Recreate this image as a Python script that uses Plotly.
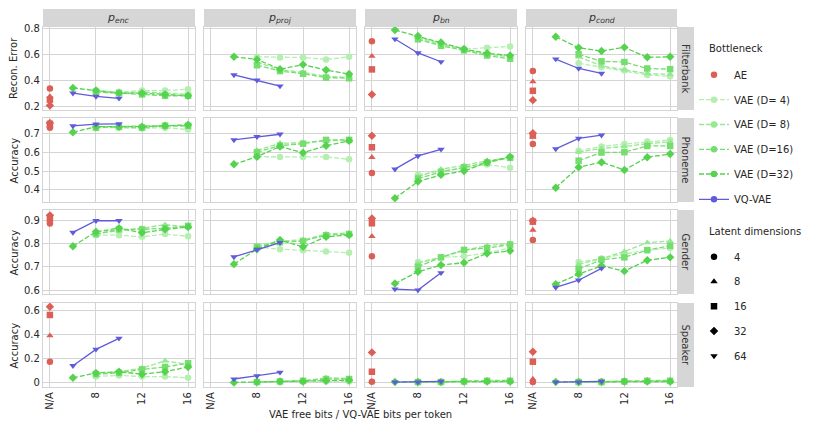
import plotly.graph_objects as go

W, H = 814, 432

# ---------------- data ----------------
PROBES = ["enc", "proj", "bn", "cond"]
TASKS = ["Filterbank", "Phoneme", "Gender", "Speaker"]
Y_TITLES = ["Recon. Error", "Accuracy", "Accuracy", "Accuracy"]

X_TICKVALS = [4, 8, 12, 16]
X_TICKTEXT = ["N/A", "8", "12", "16"]
X_AE = 4                      # position of "N/A"
X_VQ = [6, 8, 10]
X_VAE = [8, 10, 12, 14, 16]
X_VAE32 = [6, 8, 10, 12, 14, 16]
AE_DIMS = [4, 8, 16, 32]
LATENT_DIMS = [4, 8, 16, 32, 64]

Y_TICKS = [[0.2, 0.4, 0.6, 0.8], [0.4, 0.5, 0.6, 0.7], [0.6, 0.7, 0.8, 0.9], [0, 0.2, 0.4, 0.6]]
Y_TICKTEXT = [["0.2", "0.4", "0.6", "0.8"], ["0.4", "0.5", "0.6", "0.7"],
              ["0.6", "0.7", "0.8", "0.9"], ["0", "0.2", "0.4", "0.6"]]

# each list: [p_enc, p_proj, p_bn, p_cond]
# ---- Filterbank (reconstruction error)
AE_FILTERBANK = [[0.335, 0.275, 0.25, 0.205], None, [0.70, 0.585, 0.483, 0.29], [0.47, 0.388, 0.318, 0.246]]
VQ_FILTERBANK = [[0.30, 0.275, 0.26], [0.44, 0.40, 0.355], [0.717, 0.61, 0.542], [0.563, 0.49, 0.452]]
D4_FILTERBANK = [[0.32, 0.31, 0.32, 0.32, 0.33], [0.58, 0.575, 0.575, 0.56, 0.58],
                 [0.72, 0.675, 0.64, 0.65, 0.66], [0.53, 0.50, 0.475, 0.44, 0.43]]
D8_FILTERBANK = [[0.31, 0.30, 0.31, 0.30, 0.29], [0.54, 0.48, 0.46, 0.43, 0.42],
                 [0.73, 0.68, 0.635, 0.60, 0.58], [0.58, 0.51, 0.48, 0.45, 0.445]]
D16_FILTERBANK = [[0.31, 0.30, 0.29, 0.28, 0.28], [0.515, 0.47, 0.45, 0.42, 0.415],
                  [0.715, 0.665, 0.63, 0.59, 0.565], [0.60, 0.545, 0.54, 0.49, 0.485]]
D32_FILTERBANK = [[0.34, 0.32, 0.30, 0.30, 0.29, 0.28], [0.58, 0.56, 0.485, 0.52, 0.478, 0.447],
                  [0.787, 0.74, 0.69, 0.64, 0.607, 0.59], [0.735, 0.65, 0.625, 0.653, 0.576, 0.58]]
# ---- Phoneme accuracy
AE_PHONEME = [[0.73, 0.74, 0.75, 0.755], None, [0.49, 0.573, 0.626, 0.687], [0.643, 0.68, 0.69, 0.70]]
VQ_PHONEME = [[0.739, 0.749, 0.75], [0.665, 0.682, 0.695], [0.51, 0.58, 0.615], [0.617, 0.673, 0.69]]
D4_PHONEME = [[0.73, 0.73, 0.725, 0.73, 0.72], [0.576, 0.575, 0.575, 0.575, 0.562],
              [0.48, 0.50, 0.515, 0.535, 0.518], [0.608, 0.63, 0.643, 0.656, 0.665]]
D8_PHONEME = [[0.735, 0.735, 0.74, 0.74, 0.74], [0.61, 0.647, 0.65, 0.66, 0.665],
              [0.47, 0.51, 0.53, 0.555, 0.57], [0.60, 0.62, 0.63, 0.645, 0.655]]
D16_PHONEME = [[0.73, 0.735, 0.73, 0.74, 0.74], [0.60, 0.635, 0.645, 0.665, 0.665],
               [0.46, 0.495, 0.52, 0.545, 0.57], [0.555, 0.598, 0.60, 0.633, 0.633]]
D32_PHONEME = [[0.705, 0.735, 0.735, 0.735, 0.74, 0.745], [0.536, 0.576, 0.63, 0.597, 0.634, 0.66],
               [0.356, 0.444, 0.48, 0.50, 0.547, 0.576], [0.412, 0.52, 0.547, 0.506, 0.573, 0.59]]
# ---- Gender accuracy
AE_GENDER = [[0.885, 0.90, 0.91, 0.92], None, [0.745, 0.83, 0.886, 0.907], [0.814, 0.857, 0.893, 0.897]]
VQ_GENDER = [[0.847, 0.897, 0.897], [0.742, 0.774, 0.803], [0.604, 0.60, 0.674], [0.611, 0.642, 0.693]]
D4_GENDER = [[0.835, 0.835, 0.828, 0.84, 0.83], [0.785, 0.775, 0.77, 0.765, 0.76],
             [0.72, 0.74, 0.745, 0.76, 0.78], [0.72, 0.735, 0.755, 0.77, 0.78]]
D8_GENDER = [[0.84, 0.855, 0.865, 0.88, 0.87], [0.79, 0.81, 0.815, 0.84, 0.845],
             [0.715, 0.74, 0.77, 0.79, 0.80], [0.71, 0.735, 0.765, 0.803, 0.81]]
D16_GENDER = [[0.84, 0.86, 0.86, 0.865, 0.875], [0.785, 0.805, 0.81, 0.835, 0.84],
              [0.70, 0.74, 0.772, 0.78, 0.795], [0.69, 0.73, 0.74, 0.771, 0.79]]
D32_GENDER = [[0.788, 0.85, 0.865, 0.845, 0.86, 0.87], [0.711, 0.775, 0.814, 0.785, 0.828, 0.836],
              [0.628, 0.678, 0.707, 0.717, 0.757, 0.768], [0.625, 0.668, 0.704, 0.681, 0.728, 0.74]]
# ---- Speaker accuracy
AE_SPEAKER = [[0.173, 0.388, 0.559, 0.627], None, [0.008, 0.01, 0.09, 0.25], [0.005, 0.03, 0.173, 0.255]]
VQ_SPEAKER = [[0.14, 0.275, 0.366], [0.03, 0.055, 0.085], [0.005, 0.005, 0.01], [0.005, 0.005, 0.01]]
D4_SPEAKER = [[0.05, 0.06, 0.05, 0.05, 0.04], [0.005, 0.01, 0.01, 0.01, 0.01],
              [0.005, 0.005, 0.01, 0.01, 0.01], [0.005, 0.01, 0.01, 0.01, 0.01]]
D8_SPEAKER = [[0.07, 0.09, 0.12, 0.18, 0.15], [0.005, 0.01, 0.015, 0.04, 0.035],
              [0.005, 0.005, 0.015, 0.02, 0.02], [0.005, 0.01, 0.015, 0.02, 0.02]]
D16_SPEAKER = [[0.07, 0.08, 0.11, 0.13, 0.16], [0.005, 0.01, 0.015, 0.03, 0.03],
               [0.005, 0.005, 0.01, 0.015, 0.015], [0.005, 0.005, 0.01, 0.015, 0.015]]
D32_SPEAKER = [[0.04, 0.08, 0.09, 0.07, 0.09, 0.13], [0.002, 0.005, 0.01, 0.01, 0.015, 0.02],
               [0.005, 0.005, 0.005, 0.01, 0.01, 0.01], [0.005, 0.005, 0.005, 0.01, 0.01, 0.01]]

AE_DATA = [AE_FILTERBANK, AE_PHONEME, AE_GENDER, AE_SPEAKER]
VQ_DATA = [VQ_FILTERBANK, VQ_PHONEME, VQ_GENDER, VQ_SPEAKER]
D4_DATA = [D4_FILTERBANK, D4_PHONEME, D4_GENDER, D4_SPEAKER]
D8_DATA = [D8_FILTERBANK, D8_PHONEME, D8_GENDER, D8_SPEAKER]
D16_DATA = [D16_FILTERBANK, D16_PHONEME, D16_GENDER, D16_SPEAKER]
D32_DATA = [D32_FILTERBANK, D32_PHONEME, D32_GENDER, D32_SPEAKER]

# ---------------- style ----------------
FONT = "DejaVu Sans"
TXT = "#262626"
RED = "#db5f57"
BLUE = "#5f5bdb"
GREENS = {4: "#b4efb0", 8: "#96e891", 16: "#75de6f", 32: "#55d34f"}
SYMBOLS = {4: "circle", 8: "triangle-up", 16: "square", 32: "diamond", 64: "triangle-down"}
GRID = "#d4d4d4"
STRIP = "#d6d6d6"
DASH = "5px,2px"
MS = 6.5
FS = 10

COLS_PX = [(43, 195), (204, 356), (365, 517), (526, 677)]
ROWS_PX = [(27, 110), (118, 202), (210, 294), (303, 387)]
Y_RANGES = [[0.17, 0.81], [0.336, 0.781], [0.583, 0.943], [-0.036, 0.658]]
X_RANGE = [3.4, 16.6]


def px_x(p):
    return p / W


def px_y(p):
    return 1 - p / H


fig = go.Figure()
layout = dict(
    width=W, height=H, template="none",
    margin=dict(l=0, r=0, t=0, b=0),
    paper_bgcolor="white", plot_bgcolor="white",
    font=dict(family=FONT, size=FS, color=TXT),
    showlegend=True, hovermode=False,
)

annotations = []
shapes = []

for r, task in enumerate(TASKS):
    for c, probe in enumerate(PROBES):
        i = r * 4 + c + 1
        xa = "x" if i == 1 else f"x{i}"
        ya = "y" if i == 1 else f"y{i}"
        # VAE series
        for dim, data, xs in [(4, D4_DATA, X_VAE), (8, D8_DATA, X_VAE),
                              (16, D16_DATA, X_VAE), (32, D32_DATA, X_VAE32)]:
            fig.add_trace(go.Scatter(
                x=xs, y=data[r][c], xaxis=xa, yaxis=ya, mode="lines+markers",
                line=dict(color=GREENS[dim], width=1.3, dash=DASH),
                marker=dict(symbol=SYMBOLS[dim], size=MS, color=GREENS[dim]),
                showlegend=False, name=f"VAE (D={dim})"))
        # VQ-VAE
        fig.add_trace(go.Scatter(
            x=X_VQ, y=VQ_DATA[r][c], xaxis=xa, yaxis=ya, mode="lines+markers",
            line=dict(color=BLUE, width=1.3),
            marker=dict(symbol=SYMBOLS[64], size=MS, color=BLUE),
            showlegend=False, name="VQ-VAE"))
        # AE
        ae = AE_DATA[r][c]
        if ae is not None:
            fig.add_trace(go.Scatter(
                x=[X_AE] * len(ae), y=ae, xaxis=xa, yaxis=ya, mode="markers",
                marker=dict(symbol=[SYMBOLS[d] for d in AE_DIMS], size=MS, color=RED),
                showlegend=False, name="AE"))

        x0, x1 = COLS_PX[c]
        y0, y1 = ROWS_PX[r]
        layout["xaxis" if i == 1 else f"xaxis{i}"] = dict(
            domain=[px_x(x0), px_x(x1)], anchor=ya, range=X_RANGE,
            tickvals=X_TICKVALS, ticktext=X_TICKTEXT, showticklabels=(r == 3),
            tickangle=-90, ticks="", showgrid=True, gridcolor=GRID, gridwidth=1,
            zeroline=False, showline=True, mirror=True, linecolor=GRID, linewidth=1.3,
            tickfont=dict(size=FS, color=TXT, family=FONT))
        layout["yaxis" if i == 1 else f"yaxis{i}"] = dict(
            domain=[px_y(y1), px_y(y0)], anchor=xa, range=Y_RANGES[r],
            tickvals=Y_TICKS[r], ticktext=Y_TICKTEXT[r], showticklabels=(c == 0),
            ticks="", showgrid=True, gridcolor=GRID, gridwidth=1,
            zeroline=False, showline=True, mirror=True, linecolor=GRID, linewidth=1.3,
            tickfont=dict(size=FS, color=TXT, family=FONT))

# strips on top (probes)
for c, probe in enumerate(PROBES):
    x0, x1 = COLS_PX[c]
    shapes.append(dict(type="rect", xref="paper", yref="paper",
                       x0=px_x(x0), x1=px_x(x1), y0=px_y(27), y1=px_y(9),
                       fillcolor=STRIP, line=dict(width=0)))
    annotations.append(dict(xref="paper", yref="paper", x=px_x((x0 + x1) / 2), y=px_y(18),
                            text=f"<i>p<sub>{probe}</sub></i>", showarrow=False,
                            font=dict(size=11, color="#333333"), xanchor="center", yanchor="middle"))
# strips on right (tasks) and y titles
for r, task in enumerate(TASKS):
    y0, y1 = ROWS_PX[r]
    shapes.append(dict(type="rect", xref="paper", yref="paper",
                       x0=px_x(677), x1=px_x(694), y0=px_y(y1), y1=px_y(y0),
                       fillcolor=STRIP, line=dict(width=0)))
    annotations.append(dict(xref="paper", yref="paper", x=px_x(685.5), y=px_y((y0 + y1) / 2),
                            text=task, textangle=90, showarrow=False,
                            font=dict(size=FS, color="#333333"), xanchor="center", yanchor="middle"))
    annotations.append(dict(xref="paper", yref="paper", x=px_x(13.5), y=px_y((y0 + y1) / 2),
                            text=Y_TITLES[r], textangle=-90, showarrow=False,
                            font=dict(size=FS, color=TXT), xanchor="center", yanchor="middle"))

annotations.append(dict(xref="paper", yref="paper", x=px_x(360), y=px_y(414),
                        text="VAE free bits / VQ-VAE bits per token", showarrow=False,
                        font=dict(size=FS, color=TXT), xanchor="center", yanchor="middle"))

# legend titles
annotations.append(dict(xref="paper", yref="paper", x=px_x(707), y=px_y(48),
                        text="Bottleneck", showarrow=False, font=dict(size=FS, color=TXT),
                        xanchor="left", yanchor="middle"))
annotations.append(dict(xref="paper", yref="paper", x=px_x(707), y=px_y(231),
                        text="Latent dimensions", showarrow=False, font=dict(size=FS, color=TXT),
                        xanchor="left", yanchor="middle"))

# legend entries (one small legend per entry for spacing control)
LEG_X = 694
entries = [
    ("AE", dict(mode="markers", marker=dict(symbol="circle", size=MS, color=RED)), 74.7),
    ("VAE (D= 4)", dict(mode="lines+markers", line=dict(color=GREENS[4], width=1.3, dash=DASH),
                        marker=dict(symbol="circle", size=MS, color=GREENS[4])), 99.7),
    ("VAE (D= 8)", dict(mode="lines+markers", line=dict(color=GREENS[8], width=1.3, dash=DASH),
                        marker=dict(symbol="circle", size=MS, color=GREENS[8])), 124.5),
    ("VAE (D=16)", dict(mode="lines+markers", line=dict(color=GREENS[16], width=1.3, dash=DASH),
                        marker=dict(symbol="circle", size=MS, color=GREENS[16])), 149.3),
    ("VAE (D=32)", dict(mode="lines+markers", line=dict(color=GREENS[32], width=1.3, dash=DASH),
                        marker=dict(symbol="circle", size=MS, color=GREENS[32])), 174.0),
    ("VQ-VAE", dict(mode="lines+markers", line=dict(color=BLUE, width=1.3),
                    marker=dict(symbol="circle", size=MS, color=BLUE)), 199.3),
]
for k, dim in enumerate(LATENT_DIMS):
    entries.append((str(dim), dict(mode="markers", marker=dict(symbol=SYMBOLS[dim], size=MS, color="black")),
                    256.7 + k * 24.8))

for k, (name, style, ypx) in enumerate(entries):
    lg = "legend" if k == 0 else f"legend{k + 1}"
    fig.add_trace(go.Scatter(x=[None], y=[None], name=name, legend=lg, showlegend=True,
                             hoverinfo="skip", **style))
    layout[lg] = dict(x=px_x(LEG_X), xanchor="left", y=px_y(ypx), yanchor="middle",
                      bgcolor="rgba(0,0,0,0)", borderwidth=0,
                      font=dict(size=FS, color=TXT, family=FONT))

layout["annotations"] = annotations
layout["shapes"] = shapes
fig.update_layout(**layout)
fig.write_html("out.html", config={"displayModeBar": False, "staticPlot": False},
               post_script="document.body.style.margin='0px';document.body.style.overflow='hidden';")
